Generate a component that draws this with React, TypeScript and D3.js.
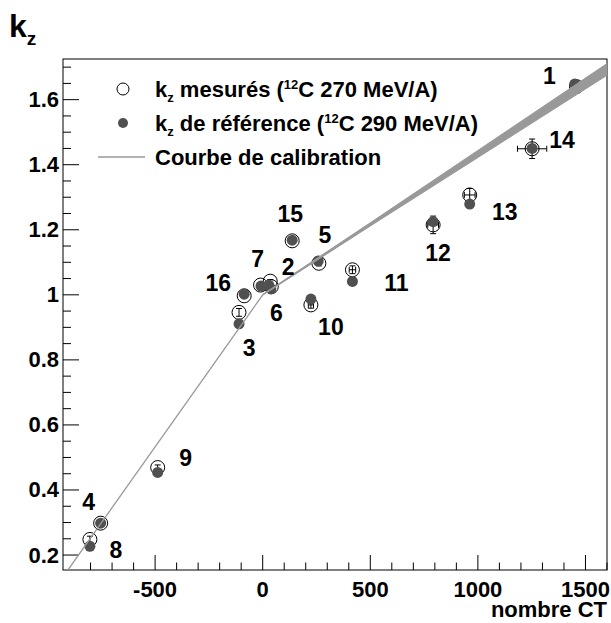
import React from "react";
import * as d3 from "d3";

// ---------- data ----------
const pointIds = ["1", "2", "3", "4", "5", "6", "7", "8", "9", "10", "11", "12", "13", "14", "15", "16"];
const ctMeasured = [1458, 35, -110, -753, 261, 40, -10, -803, -488, 224, 417, 792, 962, 1252, 137, -86];
const kzMeasured = [1.640, 1.042, 0.946, 0.298, 1.097, 1.025, 1.030, 0.248, 0.469, 0.969, 1.077, 1.215, 1.307, 1.449, 1.166, 0.997];
const ctError = [0, 0, 0, 0, 0, 0, 0, 0, 0, 12, 15, 25, 25, 68, 0, 0];
const kzError = [0.008, 0.005, 0.012, 0.005, 0.008, 0.005, 0.005, 0.01, 0.008, 0.01, 0.012, 0.027, 0.02, 0.03, 0.005, 0.005];
const ctReference = [1450, 28, -110, -753, 258, 38, -8, -803, -488, 224, 417, 792, 962, 1252, 137, -86];
const kzReference = [1.648, 1.030, 0.911, 0.298, 1.104, 1.018, 1.027, 0.227, 0.454, 0.987, 1.041, 1.225, 1.279, 1.450, 1.168, 1.002];

// calibration curve: steep part (thin line) and upper part (band)
const calibLowCt = [-905, 0];
const calibLowKz = [0.154, 1.0];
const calibHighCt = [0, 500, 1000, 1600];
const calibHighKz = [1.0, 1.2165, 1.433, 1.693];
const calibHighHalfWidth = [0.001, 0.005, 0.011, 0.018];

const xMajorTicks = [-500, 0, 500, 1000, 1500];
const xTickLabels = ["-500", "0", "500", "1000", "1500"];
const yMajorTicks = [0.2, 0.4, 0.6, 0.8, 1.0, 1.2, 1.4, 1.6];
const yTickLabels = ["0.2", "0.4", "0.6", "0.8", "1", "1.2", "1.4", "1.6"];

// label offsets (px) relative to the measured point
const labelDx = [-27, 18, 10, -12, 6, 5, -3, 26, 28, 20, 44, 5, 35, 30, -2, -26];
const labelDy = [-11, -14, 36, -21, -28, 26, -26, 11, -10, 22, 13, 28, 17, -9, -27, -13];

// ---------- layout ----------
const W = 611, H = 623;
const L = 63, R = 607, T = 59, B = 570;
const FONT = "'Liberation Sans', Arial, Helvetica, sans-serif";
const FILL_REF = "#505050";
const BAND = "#999999";

export default function App() {
  const x = d3.scaleLinear().domain([-928, 1600]).range([L, R]);
  const y = d3.scaleLinear().domain([0.154, 1.725]).range([B, T]);

  const xMinor = d3.range(-800, 1601, 100).filter((v) => !xMajorTicks.includes(v));
  const yMinor = d3.range(0.2, 1.7251, 0.05).filter((v) => !yMajorTicks.some((m) => Math.abs(m - v) < 1e-6));

  const lowLine = d3.line<number>().x((_, i) => x(calibLowCt[i])).y((_, i) => y(calibLowKz[i]))(calibLowCt);
  const bandArea = d3
    .area<number>()
    .x((_, i) => x(calibHighCt[i]))
    .y0((_, i) => y(calibHighKz[i] - calibHighHalfWidth[i]))
    .y1((_, i) => y(calibHighKz[i] + calibHighHalfWidth[i]))(calibHighCt);
  const highLine = d3.line<number>().x((_, i) => x(calibHighCt[i])).y((_, i) => y(calibHighKz[i]))(calibHighCt);

  const cap = 3;

  return (
    <svg width={W} height={H} style={{ position: "absolute", left: 0, top: 0, background: "#fff" }} fontFamily={FONT}>
      <rect x={0} y={0} width={W} height={H} fill="#fff" />
      <defs>
        <clipPath id="plot">
          <rect x={L} y={T} width={R - L} height={B - T} />
        </clipPath>
      </defs>

      {/* title */}
      <text x={9} y={37} fontSize={32} fontWeight="bold">
        k<tspan fontSize={19} dy={8}>z</tspan>
      </text>

      {/* frame */}
      <rect x={L} y={T} width={R - L} height={B - T} fill="none" stroke="#000" strokeWidth={1} />

      {/* x ticks */}
      {xMajorTicks.map((v) => (
        <line key={"xM" + v} x1={x(v)} x2={x(v)} y1={B} y2={B - 15} stroke="#000" />
      ))}
      {xMinor.map((v) => (
        <line key={"xm" + v} x1={x(v)} x2={x(v)} y1={B} y2={B - 7.5} stroke="#000" />
      ))}
      {xMajorTicks.map((v, i) => (
        <text key={"xl" + v} x={x(v)} y={597} fontSize={22} fontWeight="bold" textAnchor="middle">
          {xTickLabels[i]}
        </text>
      ))}
      <text x={R} y={617} fontSize={22} fontWeight="bold" textAnchor="end">nombre CT</text>

      {/* y ticks */}
      {yMajorTicks.map((v) => (
        <line key={"yM" + v} x1={L} x2={L + 16} y1={y(v)} y2={y(v)} stroke="#000" />
      ))}
      {yMinor.map((v) => (
        <line key={"ym" + v} x1={L} x2={L + 8} y1={y(v)} y2={y(v)} stroke="#000" />
      ))}
      {yMajorTicks.map((v, i) => (
        <text key={"yl" + v} x={59} y={y(v) + 7.5} fontSize={22} fontWeight="bold" textAnchor="end">
          {yTickLabels[i]}
        </text>
      ))}

      <g clipPath="url(#plot)">
        {/* measured: error bars + open circles */}
        {ctMeasured.map((c, i) => {
          const cx = x(c), cy = y(kzMeasured[i]);
          const ex = ctError[i] > 0 ? x(c + ctError[i]) - cx : 0;
          const ey = cy - y(kzMeasured[i] + kzError[i]);
          return (
            <g key={"m" + i} stroke="#000" strokeWidth={1} fill="none">
              {ey > 0 && <line x1={cx} x2={cx} y1={cy - ey} y2={cy + ey} />}
              {ey > 0 && <line x1={cx - cap} x2={cx + cap} y1={cy - ey} y2={cy - ey} />}
              {ey > 0 && <line x1={cx - cap} x2={cx + cap} y1={cy + ey} y2={cy + ey} />}
              {ex > 0 && <line x1={cx - ex} x2={cx + ex} y1={cy} y2={cy} />}
              {ex > 0 && <line x1={cx - ex} x2={cx - ex} y1={cy - cap} y2={cy + cap} />}
              {ex > 0 && <line x1={cx + ex} x2={cx + ex} y1={cy - cap} y2={cy + cap} />}
              <circle cx={cx} cy={cy} r={7} />
            </g>
          );
        })}
        {/* reference: filled circles */}
        {ctReference.map((c, i) => (
          <circle key={"r" + i} cx={x(c)} cy={y(kzReference[i])} r={5.5} fill={FILL_REF} />
        ))}
        {/* calibration curve */}
        <path d={lowLine ?? ""} fill="none" stroke={BAND} strokeWidth={1.3} />
        <path d={bandArea ?? ""} fill={BAND} stroke={BAND} strokeWidth={1} />
        <path d={highLine ?? ""} fill="none" stroke={BAND} strokeWidth={1.3} />
      </g>

      {/* point labels */}
      {pointIds.map((id, i) => (
        <text
          key={"lab" + id}
          x={x(ctMeasured[i]) + labelDx[i]}
          y={y(kzMeasured[i]) + labelDy[i] + 8}
          fontSize={23}
          fontWeight="bold"
          textAnchor="middle"
        >
          {id}
        </text>
      ))}

      {/* legend */}
      <circle cx={123} cy={89} r={6} fill="none" stroke="#000" />
      <text x={155} y={97} fontSize={22} fontWeight="bold">
        k<tspan fontSize={13} dy={5}>z</tspan>
        <tspan dy={-5}> mesurés (</tspan>
        <tspan fontSize={13} dy={-8}>12</tspan>
        <tspan dy={8}>C 270 MeV/A)</tspan>
      </text>
      <circle cx={123} cy={123} r={5} fill={FILL_REF} />
      <text x={155} y={131} fontSize={22} fontWeight="bold">
        k<tspan fontSize={13} dy={5}>z</tspan>
        <tspan dy={-5}> de référence (</tspan>
        <tspan fontSize={13} dy={-8}>12</tspan>
        <tspan dy={8}>C 290 MeV/A)</tspan>
      </text>
      <line x1={98} x2={145} y1={157} y2={157} stroke={BAND} strokeWidth={1.3} />
      <text x={155} y={165} fontSize={22} fontWeight="bold">Courbe de calibration</text>
    </svg>
  );
}
